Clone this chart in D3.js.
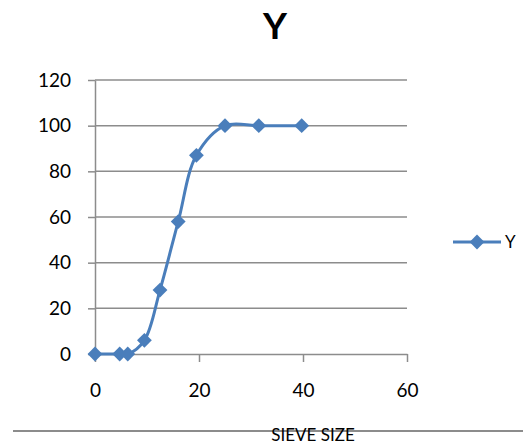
<!DOCTYPE html>
<html>
<head>
<meta charset="utf-8">
<script src="https://cdn.jsdelivr.net/npm/d3@7"></script>
<style>
  body { margin: 0; background: #fff; }
  svg text { font-family: Lato, "Open Sans", sans-serif; fill: #000; }
</style>
</head>
<body>
<svg id="chart" width="523" height="446"></svg>
<script>
// sieve size vs Y
const sieveSize = [0, 4.75, 6.3, 9.5, 12.5, 16, 19.5, 25, 31.5, 39.75];
const yValues   = [0, 0, 0, 6, 28, 58, 87, 100, 100, 100];
const xTicks = [0, 20, 40, 60];
const yTicks = [0, 20, 40, 60, 80, 100, 120];
const seriesName = "Y";

const blue = "#4a7ebb";
const gridColor = "#8c8c8c";

let svg = d3.select("#chart");

let x = d3.scaleLinear().domain([0, 60]).range([95, 407]);
let y = d3.scaleLinear().domain([0, 120]).range([354, 80]);

// title
svg.append("text")
   .attr("x", 275).attr("y", 39)
   .attr("text-anchor", "middle")
   .style("font-size", "37px").style("font-weight", "bold")
   .text(seriesName);

// gridlines
svg.append("g").selectAll("line")
   .data(yTicks.filter(d => d > 0))
   .enter().append("line")
   .attr("x1", x(0)).attr("x2", x(60))
   .attr("y1", d => y(d)).attr("y2", d => y(d))
   .attr("stroke", gridColor).attr("stroke-width", 1.5);

// y axis
let gy = svg.append("g")
   .attr("transform", "translate(" + x(0) + ",0)")
   .call(d3.axisLeft(y).tickValues(yTicks).tickSize(7).tickPadding(17).tickSizeOuter(0));
gy.selectAll("text").style("font-size", "19px");

// x axis
let gx = svg.append("g")
   .attr("transform", "translate(0," + y(0) + ")")
   .call(d3.axisBottom(x).tickValues(xTicks).tickSize(8).tickPadding(22).tickSizeOuter(0));
gx.selectAll("text").style("font-size", "19px");

svg.selectAll(".domain, .tick line")
   .attr("stroke", gridColor).attr("stroke-width", 1.5);

// series line
let line = d3.line()
   .x((d, i) => x(sieveSize[i]))
   .y(d => y(d))
   .curve(d3.curveCatmullRom.alpha(0.5));

svg.append("path")
   .datum(yValues)
   .attr("d", line)
   .attr("fill", "none")
   .attr("stroke", blue)
   .attr("stroke-width", 3);

let diamond = d3.symbol().type(d3.symbolSquare).size(110);

svg.append("g").selectAll("path")
   .data(yValues)
   .enter().append("path")
   .attr("d", diamond)
   .attr("transform", (d, i) => "translate(" + x(sieveSize[i]) + "," + y(d) + ") rotate(45)")
   .attr("fill", blue);

// legend
let legend = svg.append("g").attr("transform", "translate(453,242)");
legend.append("line")
   .attr("x1", 0).attr("x2", 48)
   .attr("stroke", blue).attr("stroke-width", 3);
legend.append("path")
   .attr("d", diamond)
   .attr("transform", "translate(24,0) rotate(45)")
   .attr("fill", blue);
legend.append("text")
   .attr("x", 52).attr("y", 6)
   .style("font-size", "17px")
   .text(seriesName);

// bottom rule and axis title
svg.append("line")
   .attr("x1", 13).attr("x2", 523)
   .attr("y1", 431).attr("y2", 431)
   .attr("stroke", gridColor).attr("stroke-width", 2);

svg.append("text")
   .attr("x", 313).attr("y", 441)
   .attr("text-anchor", "middle")
   .style("font-size", "17px")
   .text("SIEVE SIZE");
</script>
</body>
</html>
